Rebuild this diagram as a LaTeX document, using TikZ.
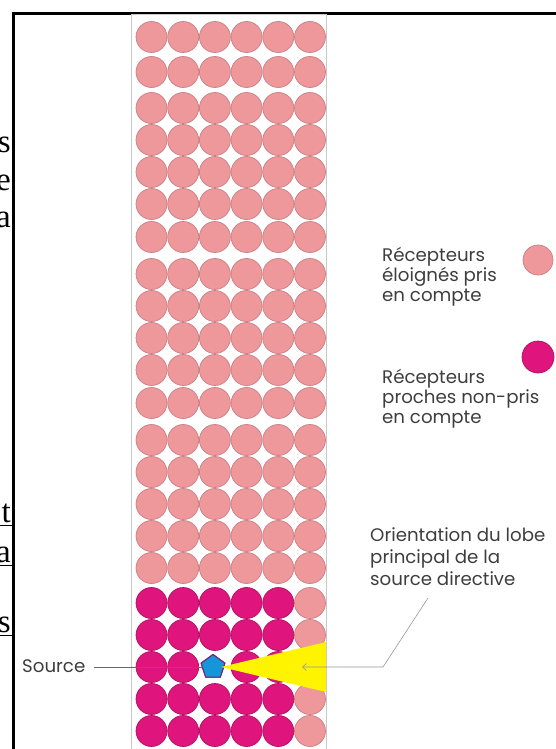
\documentclass[tikz,border=0pt]{standalone}
\usepackage{fontspec}
\setmainfont{Liberation Serif}
\newfontfamily\legendfont{Poppins}
\usetikzlibrary{arrows.meta, positioning, shapes.geometric}

\definecolor{farpink}{RGB}{238,152,155}
\definecolor{faredge}{RGB}{200,128,132}
\definecolor{nearmag}{RGB}{224,20,125}
\definecolor{nearedge}{RGB}{178,14,100}
\definecolor{srcblue}{RGB}{22,150,218}
\definecolor{srcedge}{RGB}{120,30,120}
\definecolor{lobeyellow}{RGB}{255,244,0}
\definecolor{textgray}{RGB}{62,62,62}
\definecolor{linegray}{RGB}{150,150,150}
\definecolor{boxgray}{RGB}{200,200,200}

\begin{document}
\begin{tikzpicture}[x=1pt, y=-1pt, >=Stealth,
    far/.style   ={draw=faredge, fill=farpink, circle, line width=0.7pt,
                   minimum size=31pt, inner sep=0pt},
    near/.style  ={draw=nearedge, fill=nearmag, circle, line width=0.7pt,
                   minimum size=31pt, inner sep=0pt},
    source/.style={draw=srcedge, fill=srcblue, regular polygon,
                   regular polygon sides=5, minimum size=25pt,
                   inner sep=0pt, line width=1pt},
    legend/.style={font=\legendfont\fontsize{18.2}{20}\selectfont,
                   text=textgray, align=left, inner sep=0pt},
    pointer/.style={draw=linegray, line width=0.6pt},
    margin/.style={font=\fontsize{33}{36}\selectfont, inner sep=0pt,
                   anchor=base east}
  ]

  \useasboundingbox (0,0) rectangle (556,749);

  % Cadre et colonne
  \draw[line width=2.5pt] (13.5,749) -- (13.5,13.5) -- (556,13.5);
  \draw[boxgray, line width=0.8pt] (131,14.8) rectangle (326,749);

  % Bouts de texte coupés à gauche
  \begin{scope}
    \clip (0,0) rectangle (12.2,749);
    \node[margin] (m1) at (11,153) {s};
    \node[margin] (m2) at (11,190) {e};
    \node[margin] (m3) at (11,227) {a};
    \node[margin] (m4) at (11,522) {t};
    \node[margin] (m5) at (11,562) {a};
    \node[margin] (m6) at (11,632) {s};
    \draw[line width=0.8pt] (0,525) -- (12.2,525);
    \draw[line width=0.8pt] (0,565) -- (12.2,565);
    \draw[line width=0.8pt] (0,635) -- (12.2,635);
  \end{scope}

  % Récepteurs éloignés
  \foreach \y [count=\i] in {37,72,108,140,172,204,237,274,306,338,370,403,440,472,504,536,568}
    \foreach \j in {0,...,5}
      \node[far] (f\i-\j) at ({151.5+31.7*\j},\y) {};

  % Récepteurs proches (dernière colonne éloignée)
  \foreach \y [count=\i] in {603,635,667,699,731} {
    \node[far] (f\i-5) at (310,\y) {};
    \foreach \j in {0,...,4} {
      \ifnum\i\j=32 \else
        \node[near] (n\i-\j) at ({151.5+31.7*\j},\y) {};
      \fi
    }
  }

  % Source
  \node[legend, anchor=base west] (srclabel) at (22,672) {Source};
  \node[source] (src) at (213,667) {};
  \draw[pointer, draw=gray!80!black, shorten <=8pt] (srclabel.east |- src.center) -- (src.center);
  \node[source] at (src.center) {};

  % Lobe principal
  \coordinate (apex) at (221,667);
  \fill[lobeyellow] (apex) -- (326,642) -- (326,692) -- cycle;

  % Légende
  \node[far, minimum size=30pt] (legfar) at (538,260) {};
  \node[near, minimum size=32pt] (legnear) at (538,357) {};
  \node[legend, anchor=north west] (farlabel) at (382,247)
    {Récepteurs\\éloignés pris\\en compte};
  \node[legend, anchor=north west] (nearlabel) at (382,369)
    {Récepteurs\\proches non-pris\\en compte};

  % Orientation
  \node[legend, anchor=north west, font=\legendfont\fontsize{18.2}{22}\selectfont]
    (orient) at (370,527) {Orientation du lobe\\principal de la\\source directive};
  \coordinate (foot) at (428,598);
  \coordinate (bend) at (383,667);
  \coordinate (tip)  at (302,667);
  \draw[pointer, -{Straight Barb[length=4pt, width=7pt]}] (foot) -- (bend) -- (tip);
\end{tikzpicture}
\end{document}
